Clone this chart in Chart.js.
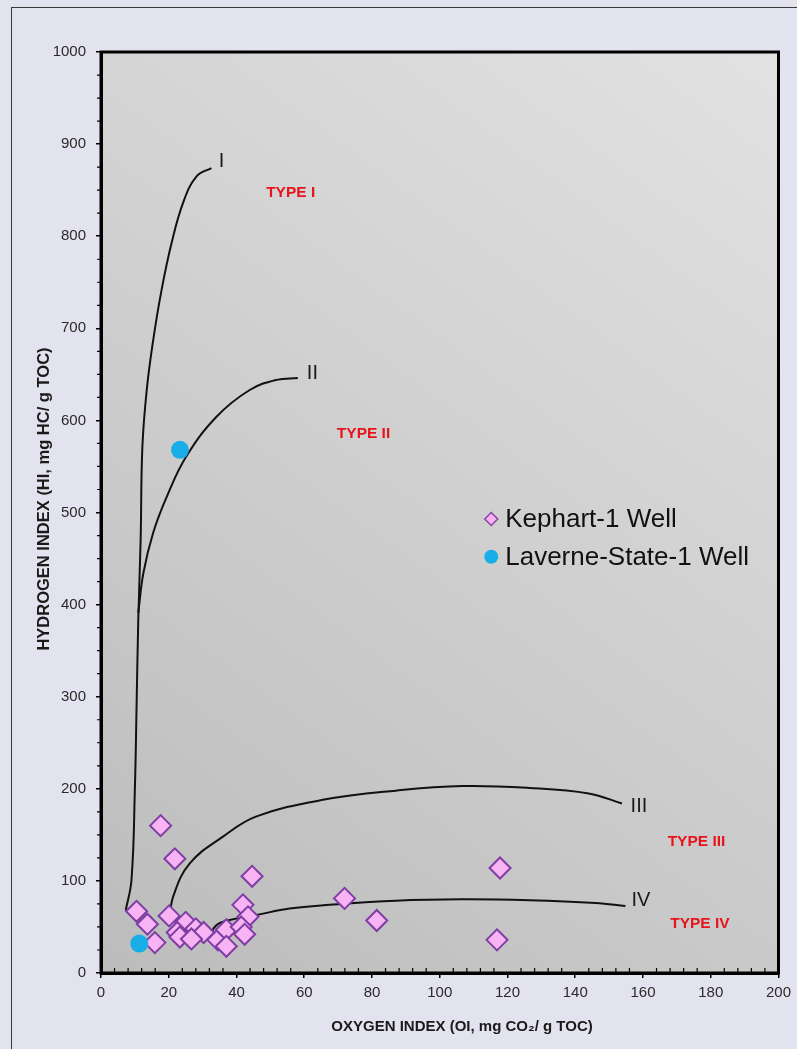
<!DOCTYPE html>
<html>
<head>
<meta charset="utf-8">
<script src="https://cdn.jsdelivr.net/npm/chart.js@4.4.0/dist/chart.umd.min.js"></script>
<style>
    html, body { margin: 0; padding: 0; background: #e3e2ef; overflow: hidden; }
    #frame { position: absolute; left: 11px; top: 7px; width: 820px; height: 1080px; border: 1px solid #3a3a3a; }
    #wrap { position: absolute; left: 0; top: 0; width: 797px; height: 1049px; }
</style>
</head>
<body>
<div id="frame"></div>
<div id="wrap"><canvas id="chart" width="797" height="1049"></canvas></div>
<script>
// Kephart-1 Well samples (OI, HI)
const kephartOI = [17.6, 21.8, 44.6, 10.5, 13.7, 15.9, 20.1, 25, 22.5, 23.3, 28, 30.3, 26.7, 34.5, 37, 37, 41.9, 43.4, 41.4, 42.4, 71.9, 81.4, 117.8, 116.9];
const kephartHI = [160, 124, 105, 67, 53, 33, 62, 55, 44, 39, 48, 44, 37, 36, 47, 29, 74, 61, 50, 42, 81, 57, 114, 36];

// Laverne-State-1 Well samples
const laverneOI = [11.3, 23.3];
const laverneHI = [32, 568];

// kerogen type evolution curves
const typeIOI = [7.3, 9, 10, 10.5, 11, 11.7, 12.2, 13.5, 15.4, 17.9, 20.8, 24.2, 28.2, 32.6];
const typeIHI = [68, 101, 200, 289, 383, 470, 570, 633, 687, 742, 792, 836, 865, 874];
const typeIIOI = [11, 12.5, 15.4, 19.4, 25.2, 34.1, 43.9, 51.8, 58.1];
const typeIIHI = [391, 434, 478, 517, 561, 604, 633, 644, 646];
const typeIIIOI = [20.3, 21.3, 26.2, 36, 45.9, 65.5, 87, 106.7, 126.4, 144, 153.8];
const typeIIIHI = [59, 83, 119, 148, 170, 188, 198, 203, 201, 195, 184];
const typeIVOI = [32.3, 34.1, 38, 45.9, 55.7, 67.5, 87, 106.6, 126.4, 146, 154.8];
const typeIVHI = [42, 52, 57.5, 63, 70, 74, 78.5, 80, 79, 76, 72.7];

const xTicks = [0, 20, 40, 60, 80, 100, 120, 140, 160, 180, 200];
const yTicks = [0, 100, 200, 300, 400, 500, 600, 700, 800, 900, 1000];

const seriesNames = ['Kephart-1 Well', 'Laverne-State-1 Well'];

// curve end labels and field labels, placed in data units
const curveLabels = [
    { text: 'I', x: 35.6, y: 881 },
    { text: 'II', x: 62.4, y: 651 },
    { text: 'III', x: 158.8, y: 181 },
    { text: 'IV', x: 159.4, y: 79 }
];
const typeLabels = [
    { text: 'TYPE I', x: 56, y: 847 },
    { text: 'TYPE II', x: 77.5, y: 586 },
    { text: 'TYPE III', x: 175.8, y: 143 },
    { text: 'TYPE IV', x: 176.8, y: 54 }
];

const FONT = '"Liberation Sans", Arial, sans-serif';
const toPts = (xs, ys) => xs.map((x, i) => ({ x: x, y: ys[i] }));

function curve(xs, ys) {
    return {
        data: toPts(xs, ys),
        showLine: true,
        borderColor: '#111',
        borderWidth: 2,
        pointRadius: 0,
        tension: 0.4,
        fill: false
    };
}

const decorPlugin = {
    id: 'decor',
    beforeDraw(chart) {
        const { ctx, chartArea: a } = chart;
        const g = ctx.createLinearGradient(a.left, a.bottom, a.right, a.top);
        g.addColorStop(0, '#bcbcbc');
        g.addColorStop(1, '#e2e2e2');
        ctx.save();
        ctx.fillStyle = g;
        ctx.fillRect(a.left, a.top, a.right - a.left, a.bottom - a.top);
        ctx.restore();
    },
    afterDraw(chart) {
        const { ctx, chartArea: a } = chart;
        const xs = chart.scales.x, ys = chart.scales.y;
        ctx.save();

        // plot frame
        ctx.strokeStyle = '#000';
        ctx.lineWidth = 3;
        ctx.strokeRect(a.left, a.top, a.right - a.left, a.bottom - a.top);

        // minor ticks
        ctx.lineWidth = 1.2;
        ctx.beginPath();
        for (let v = 4; v < 200; v += 4) {
            if (v % 20 === 0) continue;
            const px = xs.getPixelForValue(v);
            ctx.moveTo(px, a.bottom);
            ctx.lineTo(px, a.bottom - 5);
        }
        for (let v = 25; v < 1000; v += 25) {
            if (v % 100 === 0) continue;
            const py = ys.getPixelForValue(v);
            ctx.moveTo(a.left, py);
            ctx.lineTo(a.left - 4, py);
        }
        ctx.stroke();

        // curve labels
        ctx.textAlign = 'center';
        ctx.textBaseline = 'middle';
        ctx.fillStyle = '#1a1a1a';
        ctx.font = '20px ' + FONT;
        curveLabels.forEach(l => ctx.fillText(l.text, xs.getPixelForValue(l.x), ys.getPixelForValue(l.y)));

        ctx.fillStyle = '#e8141c';
        ctx.font = 'bold 15.5px ' + FONT;
        typeLabels.forEach(l => ctx.fillText(l.text, xs.getPixelForValue(l.x), ys.getPixelForValue(l.y)));

        // legend
        const lx = xs.getPixelForValue(115.2);
        const ly1 = ys.getPixelForValue(493);
        const ly2 = ys.getPixelForValue(452);
        ctx.beginPath();
        ctx.moveTo(lx - 6.5, ly1);
        ctx.lineTo(lx, ly1 - 6.5);
        ctx.lineTo(lx + 6.5, ly1);
        ctx.lineTo(lx, ly1 + 6.5);
        ctx.closePath();
        ctx.fillStyle = '#f7b3f3';
        ctx.fill();
        ctx.strokeStyle = '#8a44a8';
        ctx.lineWidth = 1.5;
        ctx.stroke();
        ctx.beginPath();
        ctx.arc(lx, ly2, 7, 0, Math.PI * 2);
        ctx.fillStyle = '#1aaee8';
        ctx.fill();
        ctx.textAlign = 'left';
        ctx.fillStyle = '#111';
        ctx.font = '26px ' + FONT;
        ctx.fillText(seriesNames[0], lx + 14, ly1 + 1);
        ctx.fillText(seriesNames[1], lx + 14, ly2 + 1);

        // axis titles
        ctx.fillStyle = '#1a1a1a';
        ctx.font = 'bold 15px ' + FONT;
        ctx.textAlign = 'center';
        ctx.fillText('OXYGEN INDEX (OI, mg CO\u2082/ g TOC)', 462, 1027);
        ctx.font = 'bold 16.5px ' + FONT;
        ctx.translate(44, 499);
        ctx.rotate(-Math.PI / 2);
        ctx.fillText('HYDROGEN INDEX (HI, mg HC/ g TOC)', 0, 0);
        ctx.restore();
    }
};

new Chart(document.getElementById('chart'), {
    type: 'scatter',
    data: {
        datasets: [
            {
                label: seriesNames[1],
                data: toPts(laverneOI, laverneHI),
                pointStyle: 'circle',
                pointRadius: 9,
                backgroundColor: '#1aaee8',
                borderColor: '#1aaee8',
                borderWidth: 0
            },
            {
                label: seriesNames[0],
                data: toPts(kephartOI, kephartHI),
                pointStyle: 'rectRot',
                pointRadius: 10.5,
                backgroundColor: '#f7b3f3',
                borderColor: '#7e3ea3',
                borderWidth: 2
            },
            curve(typeIOI, typeIHI),
            curve(typeIIOI, typeIIHI),
            curve(typeIIIOI, typeIIIHI),
            curve(typeIVOI, typeIVHI)
        ]
    },
    options: {
        responsive: false,
        animation: false,
        layout: { padding: { top: 52, right: 17, left: 0, bottom: 0 } },
        plugins: { legend: { display: false }, tooltip: { enabled: false } },
        scales: {
            x: {
                type: 'linear', min: 0, max: 200,
                afterBuildTicks: s => { s.ticks = xTicks.map(v => ({ value: v })); },
                afterFit: s => { s.height = 76; },
                ticks: { color: '#2a2a2a', padding: 6, font: { size: 15, family: FONT }, callback: v => String(v) },
                grid: { drawOnChartArea: false, drawTicks: true, tickLength: 5, color: '#000', lineWidth: 1.5 },
                border: { display: true, color: '#000', width: 3 }
            },
            y: {
                type: 'linear', min: 0, max: 1000,
                afterBuildTicks: s => { s.ticks = yTicks.map(v => ({ value: v })); },
                afterFit: s => { s.width = 101; },
                ticks: { color: '#2a2a2a', padding: 10, font: { size: 15, family: FONT }, callback: v => String(v) },
                grid: { drawOnChartArea: false, drawTicks: true, tickLength: 5, color: '#000', lineWidth: 1.5 },
                border: { display: true, color: '#000', width: 3 }
            }
        }
    },
    plugins: [decorPlugin]
});
</script>
</body>
</html>
